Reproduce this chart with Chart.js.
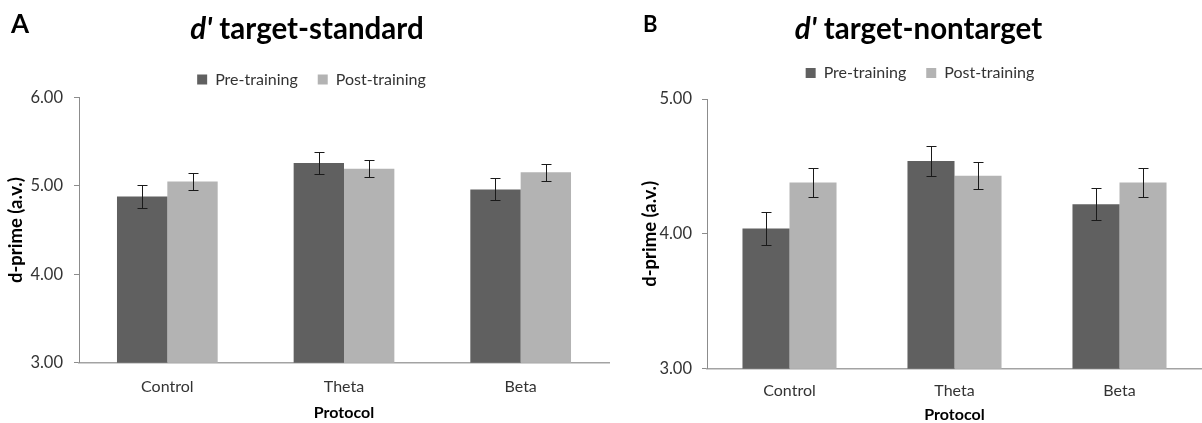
<!DOCTYPE html>
<html>
<head>
<meta charset="utf-8">
<script src="https://cdn.jsdelivr.net/npm/chart.js@4.4.1/dist/chart.umd.min.js"></script>
<style>
  body { margin: 0; background: #fff; }
  #wrap { position: relative; width: 1202px; height: 423px; overflow: hidden; font-family: Lato, sans-serif; }
  canvas { position: absolute; top: 0; }
  .letter { position: absolute; font-weight: bold; color: #000; }
  .title { position: absolute; font-weight: bold; font-size: 29.5px; line-height: 29.5px; text-align: center; color: #000; }
  .title i { font-style: italic; }
</style>
</head>
<body>
<div id="wrap">
  <canvas id="chart-a" width="614" height="423" style="left:0"></canvas>
  <canvas id="chart-b" width="564" height="423" style="left:638px"></canvas>
  <div class="letter" style="left:11px; top:10px; font-size:26px; line-height:26px">A</div>
  <div class="letter" style="left:643px; top:13px; font-size:22px; line-height:22px">B</div>
  <div class="title" style="left:0; width:614px; top:13px"><i>d'</i> target-standard</div>
  <div class="title" style="left:636px; width:565px; top:13px"><i>d'</i> target-nontarget</div>
</div>
<script>
const categories = ['Control', 'Theta', 'Beta'];
const seriesNames = ['Pre-training', 'Post-training'];

// panel A: d' target-standard
const preA = [4.88, 5.26, 4.96];
const postA = [5.05, 5.195, 5.155];
const preErrA = [0.125, 0.12, 0.125];
const postErrA = [0.10, 0.095, 0.095];

// panel B: d' target-nontarget
const preB = [4.04, 4.54, 4.22];
const postB = [4.38, 4.43, 4.38];
const preErrB = [0.12, 0.11, 0.12];
const postErrB = [0.105, 0.10, 0.105];

const PRE_COLOR = '#606060';
const POST_COLOR = '#b3b3b3';
const FONT = 'Lato';

const errorBars = {
  id: 'errorBars',
  afterDatasetsDraw(chart) {
    const { ctx } = chart;
    const y = chart.scales.y;
    ctx.save();
    ctx.strokeStyle = '#1a1a1a';
    ctx.lineWidth = 1;
    chart.data.datasets.forEach((ds, i) => {
      chart.getDatasetMeta(i).data.forEach((bar, j) => {
        const v = ds.data[j];
        const e = ds.errors[j];
        const top = Math.round(y.getPixelForValue(v + e)) + 0.5;
        const bot = Math.round(y.getPixelForValue(v - e)) + 0.5;
        const x = Math.round(bar.x) + 0.5;
        ctx.beginPath();
        ctx.moveTo(x, top); ctx.lineTo(x, bot);
        ctx.moveTo(x - 5, top); ctx.lineTo(x + 5, top);
        ctx.moveTo(x - 5, bot); ctx.lineTo(x + 5, bot);
        ctx.stroke();
      });
    });
    ctx.restore();
  }
};

function legendSpace(extra) {
  return {
    id: 'legendSpace',
    beforeInit(chart) {
      const fit = chart.legend.fit;
      chart.legend.fit = function () {
        fit.bind(chart.legend)();
        this.height += extra;
      };
    }
  };
}

function makeChart(id, p) {
  return new Chart(document.getElementById(id), {
    type: 'bar',
    data: {
      labels: categories,
      datasets: [
        { label: seriesNames[0], data: p.pre, errors: p.preErr, backgroundColor: PRE_COLOR },
        { label: seriesNames[1], data: p.post, errors: p.postErr, backgroundColor: POST_COLOR }
      ]
    },
    options: {
      responsive: false,
      animation: false,
      categoryPercentage: 0.57,
      barPercentage: 1,
      layout: { padding: { top: p.top, left: p.left, right: p.right, bottom: 0 } },
      plugins: {
        tooltip: { enabled: false },
        legend: {
          position: 'top',
          labels: {
            boxWidth: 10, boxHeight: 10, padding: 20,
            color: '#333',
            font: { family: FONT, size: 16 }
          }
        }
      },
      scales: {
        x: {
          grid: { display: false, drawTicks: false },
          border: { color: '#a3a3a3', width: 1.5 },
          ticks: { color: '#333', padding: p.xPad, font: { family: FONT, size: 16 } },
          title: {
            display: true, text: 'Protocol', color: '#000',
            font: { family: FONT, size: 16, weight: 'bold' },
            padding: { top: 0, bottom: p.xTitlePad }
          },
          afterFit: (s) => { s.height = p.xHeight; }
        },
        y: {
          min: p.min, max: p.max,
          grid: { display: true, drawOnChartArea: false, drawTicks: true, tickLength: 5, color: '#8c8c8c' },
          border: { color: '#8c8c8c', width: 1 },
          ticks: {
            stepSize: 1, padding: p.yPad, color: '#333',
            font: { family: FONT, size: 16.5 },
            callback: (v) => Number(v).toFixed(2)
          },
          title: {
            display: true, text: 'd-prime (a.v.)', color: '#000',
            font: { family: FONT, size: 18.5, weight: 'bold' },
            padding: { top: p.yTitlePad, bottom: 0 }
          },
          afterFit: (s) => { s.width = p.yWidth; }
        }
      }
    },
    plugins: [errorBars, legendSpace(p.legendExtra)]
  });
}

makeChart('chart-a', {
  pre: preA, post: postA, preErr: preErrA, postErr: postErrA,
  min: 3, max: 6,
  top: 51.5, left: 14, right: 5, legendExtra: 0,
  yWidth: 65, yPad: 11, yTitlePad: -9.1,
  xHeight: 60.3, xPad: 15, xTitlePad: 1
});

makeChart('chart-b', {
  pre: preB, post: postB, preErr: preErrB, postErr: postErrB,
  min: 3, max: 5,
  top: 45, left: 0, right: 0, legendExtra: 8,
  yWidth: 69, yPad: 10, yTitlePad: 0.9,
  xHeight: 54.3, xPad: 13, xTitlePad: -1.5
});
</script>
</body>
</html>
